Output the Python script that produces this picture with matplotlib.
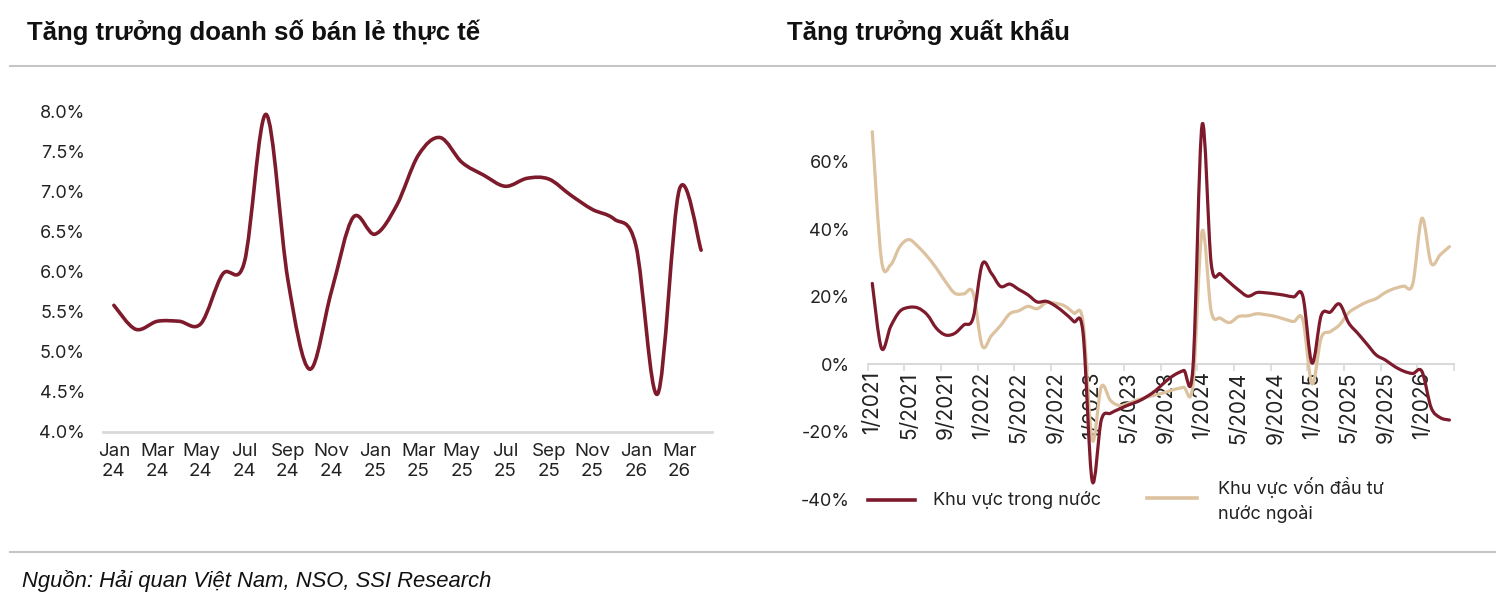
import numpy as np
import matplotlib.pyplot as plt
from matplotlib.path import Path
from matplotlib.patches import PathPatch
from matplotlib.lines import Line2D

# ---- du lieu: doanh so ban le (Jan 2024 - Apr 2026)
thang_ban_le = ["Jan 24", "Feb 24", "Mar 24", "Apr 24", "May 24", "Jun 24", "Jul 24",
                "Aug 24", "Sep 24", "Oct 24", "Nov 24", "Dec 24",
                "Jan 25", "Feb 25", "Mar 25", "Apr 25", "May 25", "Jun 25", "Jul 25",
                "Aug 25", "Sep 25", "Oct 25", "Nov 25", "Dec 25",
                "Jan 26", "Feb 26", "Mar 26", "Apr 26"]
ban_le = [5.58, 5.28, 5.38, 5.38, 5.35, 5.97, 6.12, 7.97, 5.9, 4.78, 5.75, 6.68,
          6.47, 6.83, 7.46, 7.68, 7.37, 7.21, 7.07, 7.17, 7.16, 6.96, 6.78, 6.66,
          6.33, 4.47, 7.03, 6.27]

# ---- du lieu: xuat khau (1/2021 - 4/2026), %
thang_xk = [f"{m}/{y}" for y in range(2021, 2027) for m in range(1, 13)][:64]
trong_nuoc = [24.0, 4.8, 11.2, 15.7, 16.9, 16.7, 14.7, 10.7, 8.7, 9.2, 11.7, 13.7,
              29.7, 27.0, 23.1, 23.8, 22.2, 20.6, 18.5, 18.7, 17.3, 15.2, 12.7, 9.5,
              -34.5, -16.5, -14.5, -13.2, -12.0, -11.0, -9.5, -7.6, -5.1, -3.1, -1.8, -1.1,
              71.0, 29.8, 26.8, 24.3, 22.0, 20.2, 21.3, 21.2, 20.9, 20.5, 20.0, 20.2,
              0.4, 14.5, 15.5, 17.9, 12.3, 9.2, 6.0, 2.8, 1.3, -0.6, -2.0, -2.7,
              -2.1, -12.8, -15.8, -16.5]
fdi = [69.0, 31.0, 29.5, 34.9, 37.0, 34.9, 32.0, 28.5, 24.5, 21.1, 20.9, 21.2,
       5.5, 8.5, 11.5, 15.0, 15.9, 17.2, 16.5, 18.3, 18.1, 17.3, 15.2, 12.7,
       -22.4, -6.6, -10.7, -12.2, -11.5, -10.5, -9.7, -9.0, -8.3, -7.4, -6.8, -6.1,
       39.4, 15.7, 13.7, 12.4, 14.2, 14.4, 15.0, 14.7, 14.2, 13.4, 12.7, 13.2,
       -5.8, 7.8, 9.7, 11.7, 15.3, 17.1, 18.5, 19.5, 21.3, 22.5, 23.2, 23.9,
       43.3, 30.0, 32.5, 34.9]

DO = "#7d1a2b"
BE = "#dcc29e"
XAM = "#d9d9d9"
CHU = "#222222"

plt.rcParams['font.family'] = ['Inter', 'DejaVu Sans']


def duong_cong(x, y):
    # duong lam tron kieu excel (bezier qua tung diem)
    x = np.asarray(x, float)
    y = np.asarray(y, float)
    n = len(x)
    verts = [(x[0], y[0])]
    codes = [Path.MOVETO]
    for i in range(n - 1):
        a = i - 1 if i > 0 else i
        b = i + 2 if i + 2 < n else i + 1
        c1 = (x[i] + (x[i + 1] - x[a]) / 6, y[i] + (y[i + 1] - y[a]) / 6)
        c2 = (x[i + 1] - (x[b] - x[i]) / 6, y[i + 1] - (y[b] - y[i]) / 6)
        verts += [c1, c2, (x[i + 1], y[i + 1])]
        codes += [Path.CURVE4] * 3
    return Path(verts, codes)


W, H = 1500, 595
fig = plt.figure(figsize=(W / 100, H / 100), dpi=100)


def khung(x0, y_top, x1, y_bot):
    return fig.add_axes([x0 / W, 1 - y_bot / H, (x1 - x0) / W, (y_bot - y_top) / H])


# ---------- bieu do trai
ax1 = khung(103, 112, 712, 431.5)
xs = np.arange(len(ban_le))
ax1.add_patch(PathPatch(duong_cong(xs, ban_le), fill=False, edgecolor=DO, lw=2.6,
                        capstyle='round', joinstyle='round'))
ax1.set_xlim(-0.5, len(ban_le) - 0.5)
ax1.set_ylim(4.0, 8.0)
ax1.set_yticks(np.arange(4.0, 8.01, 0.5))
ax1.set_yticklabels([f"{v:.1f}%" for v in np.arange(4.0, 8.01, 0.5)])
ax1.set_xticks(xs[::2])
ax1.set_xticklabels([t.replace(" ", "\n") for t in thang_ban_le[::2]], linespacing=1.25)
ax1.tick_params(axis='y', length=0, pad=13, labelsize=13, labelcolor=CHU)
ax1.tick_params(axis='x', length=0, pad=8, labelsize=13.5, labelcolor=CHU)
for s in ['top', 'right', 'left']:
    ax1.spines[s].set_visible(False)
ax1.spines['bottom'].set_color(XAM)
ax1.spines['bottom'].set_linewidth(2)

# ---------- bieu do phai
ax2 = khung(867.7, 121.5, 1454, 499.3)
xk = np.arange(len(thang_xk))
ax2.add_patch(PathPatch(duong_cong(xk, fdi), fill=False, edgecolor=BE, lw=2.3,
                        capstyle='round', joinstyle='round', clip_on=False, zorder=3))
ax2.add_patch(PathPatch(duong_cong(xk, trong_nuoc), fill=False, edgecolor=DO, lw=2.3,
                        capstyle='round', joinstyle='round', clip_on=False, zorder=4))
ax2.set_xlim(-0.5, len(thang_xk) - 0.5)
ax2.set_ylim(-40, 72)
ax2.set_yticks(np.arange(-40, 61, 20))
ax2.set_yticklabels([f"{v}%" for v in range(-40, 61, 20)])
ax2.set_xticks(np.arange(-0.5, len(thang_xk), 4))
ax2.set_xticks(xk[::4], minor=True)
ax2.tick_params(axis='x', which='major', length=5, width=1.2, color=XAM, labelbottom=False)
ax2.tick_params(axis='x', which='minor', length=0, pad=5, labelsize=15, labelcolor=CHU,
                labelrotation=90, labelbottom=True)
ax2.set_xticklabels(thang_xk[::4], minor=True, rotation=90)
ax2.tick_params(axis='y', length=0, pad=13, labelsize=13, labelcolor=CHU)
for s in ['top', 'right', 'left']:
    ax2.spines[s].set_visible(False)
ax2.spines['bottom'].set_position(('data', 0))
ax2.spines['bottom'].set_color(XAM)
ax2.spines['bottom'].set_linewidth(1.5)
ax2.spines['bottom'].set_zorder(1)

# chu thich
y_lg = 1 - 500 / H
fig.add_artist(Line2D([868 / W, 915 / W], [y_lg, y_lg], color=DO, lw=2.6))
fig.text(933 / W, y_lg, "Khu vực trong nước", va='center', fontsize=13, color=CHU)
fig.add_artist(Line2D([1147 / W, 1197 / W], [1 - 498 / H] * 2, color=BE, lw=2.6))
fig.text(1218 / W, y_lg, "Khu vực vốn đầu tư\nnước ngoài", va='center', fontsize=13,
         color=CHU, linespacing=1.45)

# tieu de, duong ke, nguon
fig.text(27 / W, 1 - 32 / H, "Tăng trưởng doanh số bán lẻ thực tế", va='center',
         fontsize=18.5, fontweight='bold', color='#111111',
         family=['Liberation Sans', 'DejaVu Sans'])
fig.text(787 / W, 1 - 32 / H, "Tăng trưởng xuất khẩu", va='center',
         fontsize=18.5, fontweight='bold', color='#111111',
         family=['Liberation Sans', 'DejaVu Sans'])
for yy in [66, 552]:
    fig.add_artist(Line2D([10 / W, 1495 / W], [1 - yy / H] * 2, color='#c6c6c6', lw=1.5))
fig.text(22 / W, 1 - 581 / H, "Nguồn: Hải quan Việt Nam, NSO, SSI Research", va='center',
         fontsize=15.8, style='italic', color='#111111',
         family=['Liberation Sans', 'DejaVu Sans'])

fig.savefig("out.png", dpi=100)
